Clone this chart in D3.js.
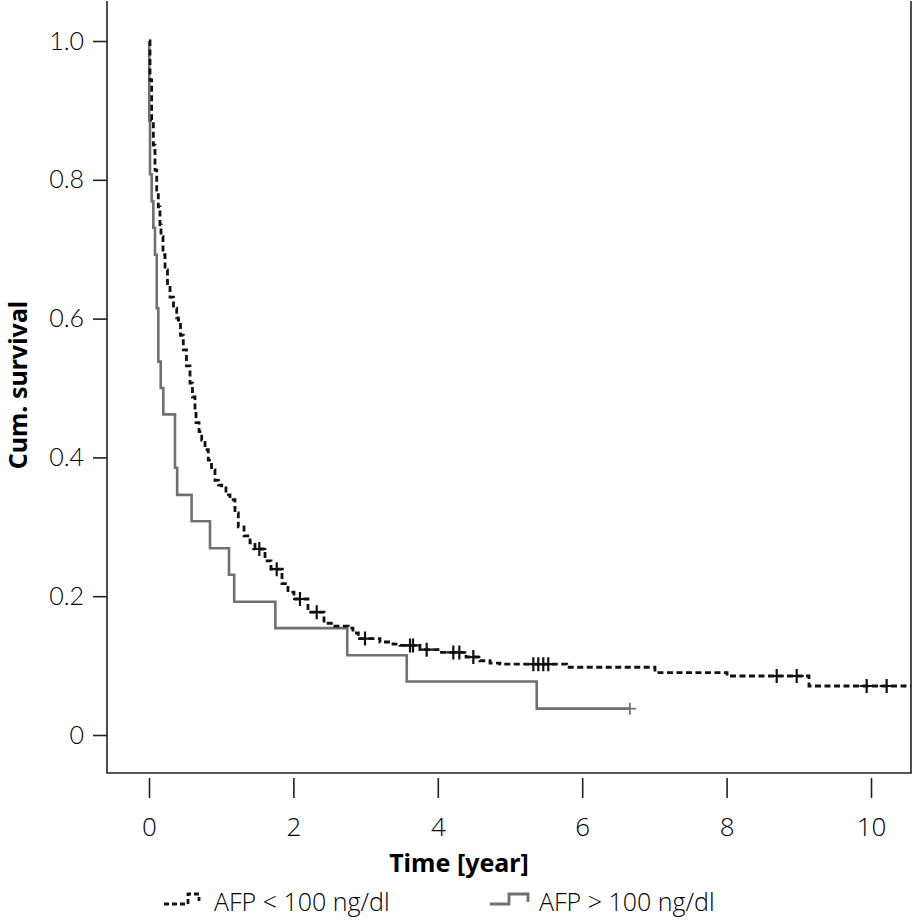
<!DOCTYPE html>
<html>
<head>
<meta charset="utf-8">
<script src="https://cdn.jsdelivr.net/npm/d3@7"></script>
<style>
    body { margin: 0; background: #fff; }
    svg { display: block; }
</style>
</head>
<body>
<div id="chart"></div>
<script>
// AFP < 100 ng/dl (dashed, black)
var lowTimes = [0, 0.014, 0.037, 0.060, 0.083, 0.107, 0.129, 0.152, 0.166, 0.194, 0.222, 0.256, 0.291, 0.339, 0.384,
    0.406, 0.436, 0.475, 0.519, 0.568, 0.602, 0.637, 0.651, 0.693, 0.730, 0.776, 0.821, 0.866, 0.914, 0.963,
    1.007, 1.066, 1.122, 1.191, 1.237, 1.316, 1.399, 1.468, 1.607, 1.690, 1.842, 1.925, 2.008, 2.202, 2.424,
    2.548, 2.760, 2.825, 2.899, 3.199, 3.380, 3.476, 3.753, 4.030, 4.391, 4.584, 4.723, 4.861, 5.785, 7.008,
    8.006, 9.141, 10.8];
var lowSurv = [1.0, 0.944, 0.886, 0.850, 0.814, 0.785, 0.761, 0.735, 0.718, 0.692, 0.670, 0.648, 0.631, 0.615, 0.601,
    0.598, 0.576, 0.555, 0.532, 0.507, 0.487, 0.468, 0.450, 0.437, 0.425, 0.411, 0.396, 0.382, 0.367, 0.360,
    0.356, 0.346, 0.339, 0.320, 0.300, 0.287, 0.277, 0.268, 0.251, 0.239, 0.218, 0.206, 0.196, 0.177, 0.161,
    0.157, 0.154, 0.147, 0.139, 0.134, 0.131, 0.129, 0.123, 0.119, 0.1124, 0.107, 0.1037, 0.102, 0.0976, 0.090,
    0.085, 0.0706, 0.0706];
var lowCensTimes = [1.528, 1.769, 2.091, 2.323, 2.992, 3.615, 3.657, 3.846, 4.215, 4.298, 4.492,
    5.323, 5.392, 5.461, 5.530, 8.694, 8.971, 9.940, 10.217];

// AFP > 100 ng/dl (solid, grey), 26 patients
var highTimes = [0, 0.003, 0.014, 0.037, 0.060, 0.083, 0.107, 0.129, 0.162, 0.198, 0.360, 0.390, 0.590, 0.845,
    1.108, 1.180, 1.750, 2.746, 3.570, 5.370, 6.660];
var highSurv = [1.0, 0.885, 0.808, 0.769, 0.731, 0.692, 0.615, 0.538, 0.500, 0.462, 0.385, 0.346, 0.308, 0.269,
    0.231, 0.192, 0.154, 0.115, 0.077, 0.038, 0.038];
var highCensTimes = [6.660];

var xTicks = [0, 2, 4, 6, 8, 10];
var yTicks = [0, 0.2, 0.4, 0.6, 0.8, 1.0];
var legendLabels = ['AFP < 100 ng/dl', 'AFP > 100 ng/dl'];

var width = 916, height = 921;
var box = {left: 107, right: 911, top: 1, bottom: 773};

var xScale = d3.scaleLinear().domain([0, 10]).range([149, 871]);
var yScale = d3.scaleLinear().domain([0, 1]).range([735, 41]);

var svg = d3.select('#chart').append('svg')
    .attr('width', width)
    .attr('height', height);

svg.append('defs').append('clipPath').attr('id', 'plotClip')
    .append('rect')
    .attr('x', box.left).attr('y', box.top)
    .attr('width', box.right - box.left).attr('height', box.bottom - box.top);

// frame
svg.append('path')
    .attr('d', 'M' + box.left + ',' + box.top + 'V' + box.bottom + 'H' + box.right + 'V' + box.top)
    .attr('fill', 'none')
    .attr('stroke', '#222')
    .attr('stroke-width', 1.6);

// axes
var yAxis = d3.axisLeft(yScale)
    .tickValues(yTicks)
    .tickSize(14)
    .tickPadding(9)
    .tickFormat(function (d) { return d === 0 ? '0' : d3.format('.1f')(d); });

var yAxisG = svg.append('g')
    .attr('transform', 'translate(' + box.left + ',0)')
    .call(yAxis);
yAxisG.select('.domain').remove();
yAxisG.selectAll('line').attr('stroke', '#222').attr('stroke-width', 1.6);
yAxisG.selectAll('text')
    .attr('font-family', 'Lato, sans-serif')
    .attr('font-weight', 300)
    .attr('font-size', 25)
    .attr('fill', '#000');

var xAxis = d3.axisBottom(xScale)
    .tickValues(xTicks)
    .tickSize(20)
    .tickPadding(20)
    .tickFormat(d3.format('d'));

var xAxisG = svg.append('g')
    .attr('transform', 'translate(0,' + (box.bottom + 5) + ')')
    .call(xAxis);
xAxisG.select('.domain').remove();
xAxisG.selectAll('line').attr('stroke', '#222').attr('stroke-width', 1.6);
xAxisG.selectAll('text')
    .attr('font-family', '"Open Sans", sans-serif')
    .attr('font-weight', 300)
    .attr('font-size', 26)
    .attr('fill', '#000');

// axis titles
svg.append('text')
    .attr('x', 459).attr('y', 872)
    .attr('text-anchor', 'middle')
    .attr('font-family', '"Noto Sans", sans-serif')
    .attr('font-weight', 'bold')
    .attr('font-size', 25)
    .attr('fill', '#000')
    .text('Time [year]');

svg.append('text')
    .attr('transform', 'translate(27,385) rotate(-90)')
    .attr('text-anchor', 'middle')
    .attr('font-family', '"Noto Sans", sans-serif')
    .attr('font-weight', 'bold')
    .attr('font-size', 25)
    .attr('fill', '#000')
    .text('Cum. survival');

// curves
var plot = svg.append('g').attr('clip-path', 'url(#plotClip)');

function toPoints(times, surv) {
    return times.map(function (t, i) { return [t, surv[i]]; });
}
function survAt(times, surv, t) {
    var s = surv[0];
    for (var i = 0; i < times.length; i++) {
        if (times[i] <= t) s = surv[i];
    }
    return s;
}

var line = d3.line()
    .x(function (d) { return xScale(d[0]); })
    .y(function (d) { return yScale(d[1]); })
    .curve(d3.curveStepAfter);

plot.append('path')
    .datum(toPoints(highTimes, highSurv))
    .attr('d', line)
    .attr('fill', 'none')
    .attr('stroke', '#707070')
    .attr('stroke-width', 2.6);

plot.append('path')
    .datum(toPoints(lowTimes, lowSurv))
    .attr('d', line)
    .attr('fill', 'none')
    .attr('stroke', '#111')
    .attr('stroke-width', 2.8)
    .attr('stroke-dasharray', '6,3.5');

function censor(g, times, surv, ctimes, color, size, sw) {
    g.selectAll(null)
        .data(ctimes)
        .enter()
        .append('path')
        .attr('d', function (t) {
            var cx = xScale(t), cy = yScale(survAt(times, surv, t));
            return 'M' + (cx - size) + ',' + cy + 'H' + (cx + size) + 'M' + cx + ',' + (cy - size) + 'V' + (cy + size);
        })
        .attr('stroke', color)
        .attr('stroke-width', sw)
        .attr('fill', 'none');
}
censor(plot, lowTimes, lowSurv, lowCensTimes, '#111', 7, 2.2);
censor(plot, highTimes, highSurv, highCensTimes, '#707070', 6, 1.8);

// legend
var legend = svg.append('g');
legend.append('path')
    .attr('d', 'M164,904H188V894H199V901')
    .attr('fill', 'none')
    .attr('stroke', '#111')
    .attr('stroke-width', 2.8)
    .attr('stroke-dasharray', '5,3');
legend.append('text')
    .attr('x', 214).attr('y', 911)
    .attr('font-family', '"Open Sans", sans-serif')
    .attr('font-weight', 300)
    .attr('font-size', 25)
    .attr('fill', '#000')
    .text(legendLabels[0]);
legend.append('path')
    .attr('d', 'M490,904H509V894H528V902')
    .attr('fill', 'none')
    .attr('stroke', '#707070')
    .attr('stroke-width', 2.8);
legend.append('text')
    .attr('x', 539).attr('y', 911)
    .attr('font-family', '"Open Sans", sans-serif')
    .attr('font-weight', 300)
    .attr('font-size', 25)
    .attr('fill', '#000')
    .text(legendLabels[1]);
</script>
</body>
</html>
